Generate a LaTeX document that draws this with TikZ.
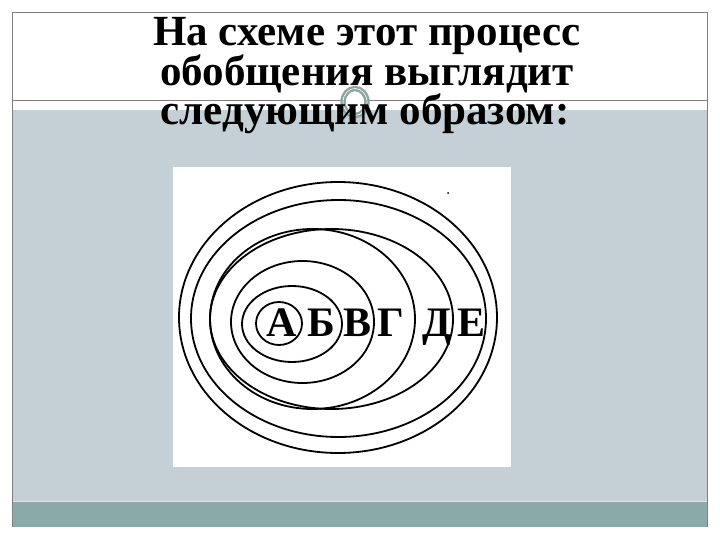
\documentclass[tikz,border=0pt]{standalone}
\usepackage{fontspec}
\usetikzlibrary{shapes.geometric}
\setmainfont{Liberation Serif}
\definecolor{slidegray}{RGB}{197,208,214}
\definecolor{slideteal}{RGB}{138,170,170}
\definecolor{framegray}{RGB}{128,128,128}
\definecolor{ringcol}{RGB}{140,165,160}
\begin{document}
\begin{tikzpicture}[x=1pt,y=-1pt,
  titletext/.style={anchor=base,inner sep=0pt,font=\fontsize{43}{44}\selectfont\bfseries},
  letter/.style={anchor=base,inner sep=0pt,font=\fontsize{42}{42}\selectfont\bfseries},
  ring/.style={draw=black,line width=1.8pt}]
\useasboundingbox (0,0) rectangle (720,540);
\fill[white] (0,0) rectangle (720,540);
% slide body
\fill[slidegray] (12,110) rectangle (707,502);
\fill[slideteal] (12,502) rectangle (707,527);
\draw[white!70!slideteal,line width=1pt] (12,501) -- (707,501);
\draw[framegray,line width=0.8pt] (12,527) -- (12,12) -- (707,12) -- (707,527);
\draw[framegray,line width=0.8pt] (12,100) -- (707,100);
% ornament circle
\node[ellipse,minimum width=24pt,minimum height=27pt,inner sep=0pt,fill=white,draw=ringcol,line width=2.4pt,double=white,double distance=0.6pt] (orn) at (355,102) {};
% title
\node[titletext] (t1) at (367,46) {На схеме этот процесс};
\node[titletext] (t2) at (367,86) {обобщения выглядит};
\node[titletext] (t3) at (365,125) {следующим образом:};
% picture
\fill[white] (173,167) rectangle (511,467);
\draw[ring] (338,317.5) ellipse [x radius=159, y radius=135.5];
\draw[ring] (338.5,318.5) ellipse [x radius=147.5, y radius=118.5];
\draw[ring] (331.5,319) ellipse [x radius=121.5, y radius=90];
\draw[ring] (312.5,319) ellipse [x radius=102.5, y radius=90];
\draw[ring] (302.5,322) ellipse [x radius=71.5, y radius=61];
\draw[ring] (292,324) ellipse [x radius=50, y radius=38];
\draw[ring] (279,323.5) ellipse [x radius=23, y radius=21.5];
\fill[black] (448,193) circle (1);
\node[letter] (la) at (282,336) {А};
\node[letter] (lb) at (321,336) {Б};
\node[letter] (lv) at (358,336) {В};
\node[letter] (lg) at (391,336) {Г};
\node[letter] (ld) at (437,336) {Д};
\node[letter] (le) at (472,336) {Е};
\end{tikzpicture}
\end{document}
